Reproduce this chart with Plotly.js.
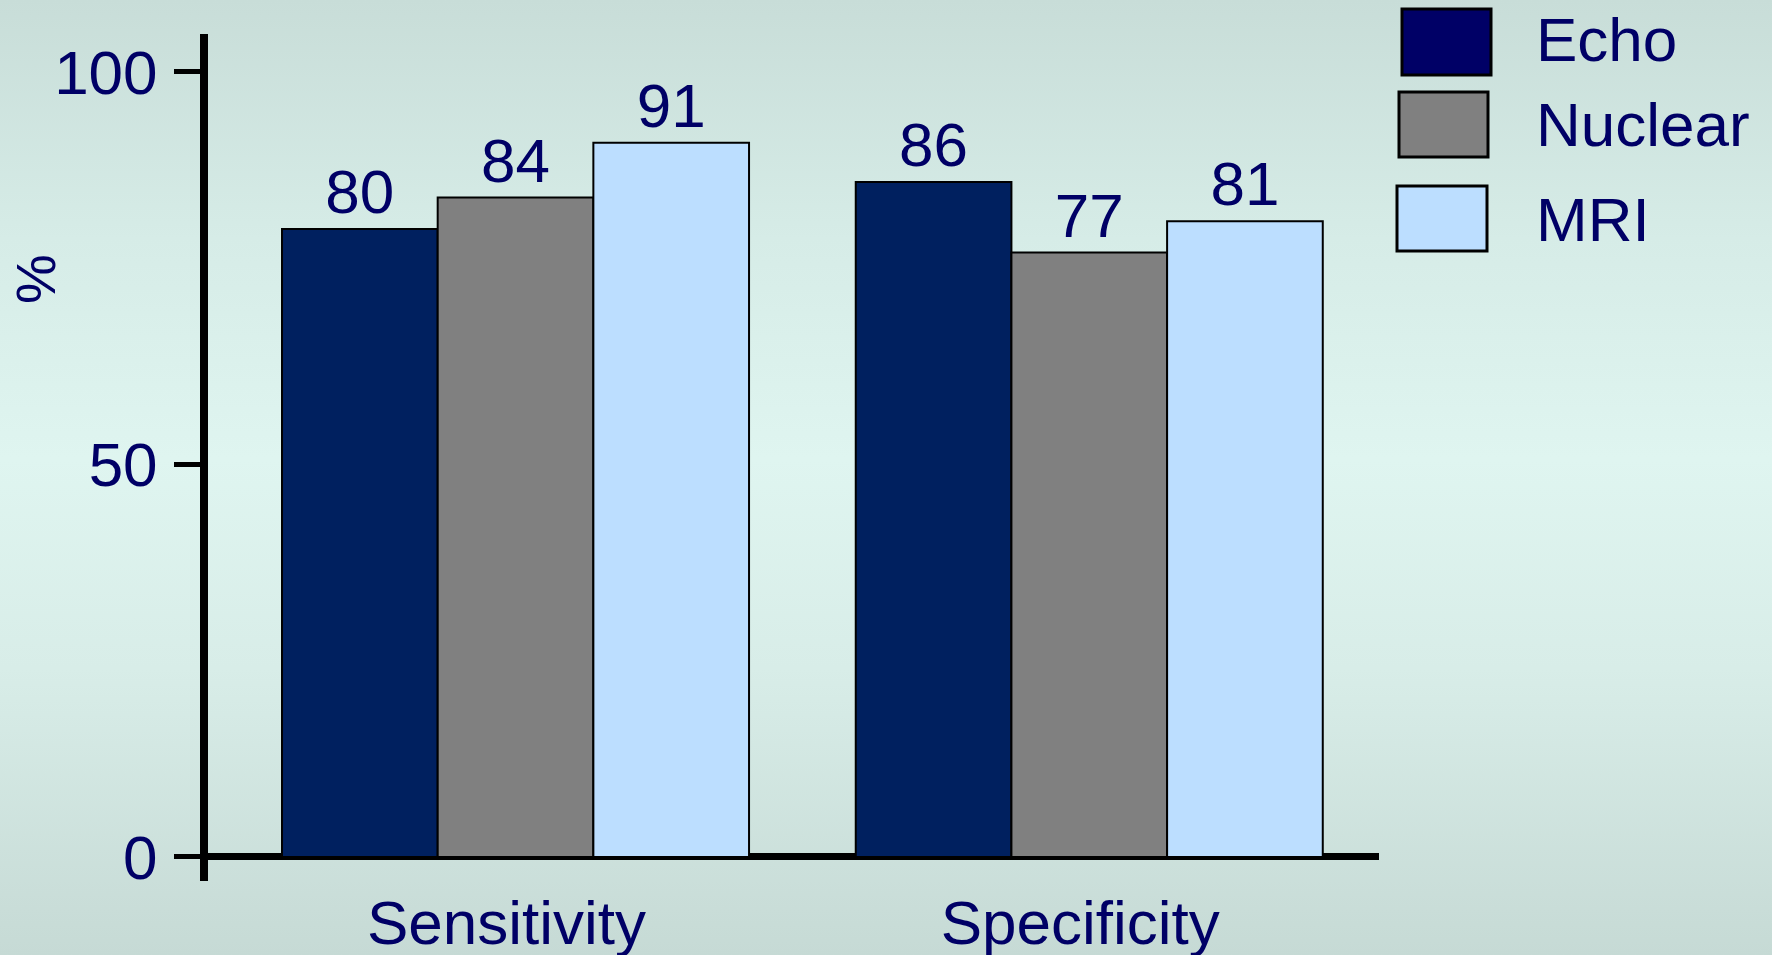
<!DOCTYPE html>
<html>
<head>
<meta charset="utf-8">
<script src="https://cdn.plot.ly/plotly-3.0.1.min.js"></script>
<style>
  html, body { margin: 0; padding: 0; }
  body {
    width: 1772px; height: 955px; overflow: hidden;
    background: linear-gradient(to bottom, #C8DDD8 0%, #D6ECE7 25%, #DFF5F0 48%, #D8EDE8 70%, #C6DAD5 100%);
  }
  #chart { width: 1772px; height: 955px; }
</style>
</head>
<body>
<div id="chart"></div>
<script>
// Diagnostic accuracy by imaging modality
const categories = ['Sensitivity', 'Specificity'];
const seriesNames = ['Echo', 'Nuclear', 'MRI'];
const echoValues = [80, 86];
const nuclearValues = [84, 77];
const mriValues = [91, 81];
const yTickValues = [0, 50, 100];
const yTickLabels = ['0', '50', '100'];
const axisTitle = '%';

const seriesValues = [echoValues, nuclearValues, mriValues];
const barColors = ['#00205F', '#808080', '#BCDEFF'];
const swatchColors = ['#000066', '#808080', '#BCDEFF'];
const textColor = '#000066';
const fontFamily = '"Liberation Sans", Arial, Helvetica, sans-serif';

// Plot area in page pixels
const W = 1772, H = 955;
const plotLeft = 208, plotRight = 1379, plotTop = 34, plotBottom = 881;
const pw = plotRight - plotLeft, ph = plotBottom - plotTop;
const px = x => (x - plotLeft) / pw;
const py = y => (plotBottom - y) / ph;

const traces = seriesNames.map((name, i) => ({
  type: 'bar',
  name: name,
  x: categories,
  y: seriesValues[i],
  text: seriesValues[i].map(String),
  textposition: 'outside',
  textfont: { family: fontFamily, size: 62, color: textColor },
  constraintext: 'none',
  cliponaxis: false,
  marker: { color: barColors[i], line: { color: '#000000', width: 2 } },
  hoverinfo: 'skip'
}));

// Legend: large swatches with labels to the right
const swatchBoxes = [
  [1402, 9, 1491, 75],
  [1399, 92, 1488, 157],
  [1397, 186, 1487, 251]
];
const labelCenters = [40, 125, 220];
const shapes = swatchBoxes.map((b, i) => ({
  type: 'rect', xref: 'paper', yref: 'paper',
  x0: px(b[0]), x1: px(b[2]), y0: py(b[3]), y1: py(b[1]),
  fillcolor: swatchColors[i],
  line: { color: '#000000', width: 3 }
}));
const annotations = seriesNames.map((name, i) => ({
  xref: 'paper', yref: 'paper',
  x: px(1534), y: py(labelCenters[i]),
  xanchor: 'left', yanchor: 'middle',
  text: name, showarrow: false,
  font: { family: fontFamily, size: 62, color: textColor }
}));
annotations.push({
  xref: 'paper', yref: 'paper',
  x: px(35), y: py(279),
  xanchor: 'center', yanchor: 'middle',
  text: axisTitle, textangle: -90, showarrow: false,
  font: { family: fontFamily, size: 56, color: textColor }
});

const layout = {
  width: W, height: H, autosize: false,
  margin: { l: plotLeft, r: W - plotRight, t: plotTop, b: H - plotBottom, pad: 0 },
  paper_bgcolor: 'rgba(0,0,0,0)',
  plot_bgcolor: 'rgba(0,0,0,0)',
  showlegend: false,
  barmode: 'group',
  bargap: 0.186,
  bargroupgap: 0,
  font: { family: fontFamily, color: textColor },
  xaxis: {
    type: 'category',
    range: [-0.536, 1.505],
    showline: false, showgrid: false, zeroline: false,
    ticks: '',
    ticklabelshift: -9,
    tickfont: { family: fontFamily, size: 62, color: textColor },
    fixedrange: true
  },
  yaxis: {
    range: [-3.06, 104.84],
    tickvals: yTickValues,
    ticktext: yTickLabels,
    ticks: 'outside', ticklen: 26, tickwidth: 5, tickcolor: '#000000',
    showline: true, linewidth: 8, linecolor: '#000000',
    zeroline: true, zerolinewidth: 7, zerolinecolor: '#000000',
    showgrid: false,
    ticklabelstandoff: 4,
    tickfont: { family: fontFamily, size: 62, color: textColor },
    fixedrange: true
  },
  shapes: shapes,
  annotations: annotations
};

Plotly.newPlot('chart', traces, layout, { displayModeBar: false, staticPlot: true });
</script>
</body>
</html>
